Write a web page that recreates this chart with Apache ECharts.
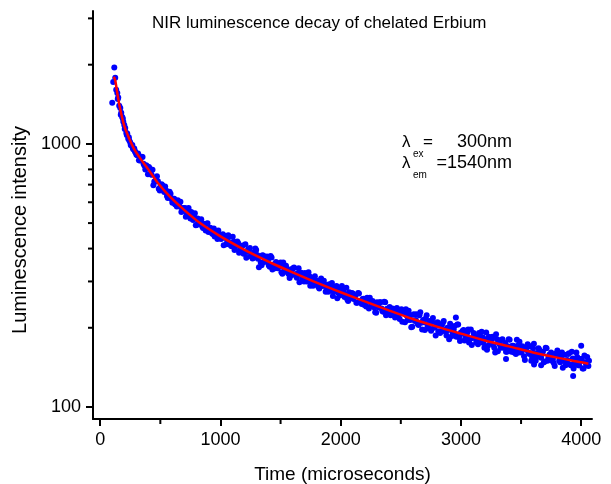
<!DOCTYPE html>
<html>
<head>
<meta charset="utf-8">
<script src="https://cdn.jsdelivr.net/npm/echarts@6/dist/echarts.min.js"></script>
<style>
  html, body { margin: 0; padding: 0; background: #fff; }
  #chart { width: 611px; height: 484px; }
</style>
</head>
<body>
<div id="chart"></div>
<script>
// measured decay, [time (us), counts]
const decayPoints = [
  [100,1433],[117,1950],[125,1786],[133,1607],[142,1560],[150,1500],[158,1397],[167,1370],[175,1313],[183,1265],
  [192,1215],[200,1180],[208,1150],[217,1100],[225,1095],[233,1045],[242,1030],[250,1012],[258,985],[267,990],
  [275,955],[283,960],[292,930],[300,912],
  [315,919],[330,864],[345,894],[360,841],[375,799],[390,822],[405,816],[420,766],[435,798],[442,697],[450,720],
  [465,727],[480,721],[495,665],[510,702],[525,669],[540,688],[555,634],[570,628],[585,647],[600,598],
  [615,619],[630,587],[645,611],[660,578],[675,551],[690,570],[705,571],[720,542],[735,570],[750,520],
  [765,530],[780,531],[795,491],[810,521],[825,498],[840,517],[855,479],[870,478],[885,497],[900,462],
  [915,480],[930,456],[945,477],[960,454],[975,435],[990,452],
  [1005,435],[1020,453],[1035,440],[1050,415],[1065,449],[1080,420],[1095,408],[1110,425],[1125,414],[1140,426],
  [1155,386],[1170,407],[1185,411],[1200,388],[1215,369],[1230,398],[1245,402],[1260,380],[1275,369],[1290,400],
  [1305,378],[1320,340],[1335,354],[1350,377],[1365,356],[1380,371],[1395,361],[1410,341],[1425,370],[1440,347],
  [1455,337],[1470,352],[1485,342],[1500,354],[1515,321],[1530,339],[1545,344],[1560,324],[1575,309],[1590,334],
  [1605,337],[1620,319],[1635,310],[1650,337],[1665,319],[1680,308],[1695,300],[1710,319],[1725,302],[1740,314],
  [1755,306],[1770,289],[1785,314],[1800,294],[1815,286],[1830,299],[1845,292],[1860,302],[1875,274],[1890,289],
  [1905,293],[1920,277],[1935,264],[1950,285],[1965,288],[1980,272],[1995,266],[2010,288],[2025,273],[2040,264],
  [2055,256],[2070,273],[2085,259],[2100,270],[2115,264],[2130,249],[2145,271],[2160,253],[2175,246],[2190,258],
  [2205,251],[2220,260],[2235,237],[2250,249],[2265,253],[2280,239],[2295,228],[2310,247],[2325,250],[2340,237],
  [2355,230],[2370,250],[2385,236],[2400,228],[2415,223],[2430,237],[2445,224],[2460,235],[2475,228],[2490,216],
  [2505,235],
  [2520,229],[2535,210],[2550,222],[2565,232],[2580,214],[2595,202],[2610,225],[2625,214],[2640,207],[2655,223],
  [2670,209],[2685,214],[2700,196],[2715,223],[2730,199],[2745,208],[2760,211],[2775,200],[2790,187],[2805,210],
  [2820,205],[2835,194],[2850,209],[2865,196],[2880,187],[2895,196],[2910,207],[2925,186],[2940,197],[2955,188],
  [2958,219],[2970,206],[2985,184],[3000,192],[3015,195],[3030,179],[3045,189],[3060,197],[3075,181],[3090,172],
  [3105,191],[3120,183],[3135,177],[3150,191],[3165,179],[3180,184],[3195,168],[3210,192],[3225,171],[3240,179],
  [3255,181],[3270,172],[3285,161],[3300,181],[3315,176],[3330,168],[3345,181],[3360,169],[3375,162],[3375,152],
  [3390,170],[3405,180],[3420,162],[3435,171],[3450,165],[3465,180],[3480,161],[3495,167],[3510,170],[3525,156],
  [3540,165],[3555,173],[3570,159],[3585,150],[3600,167],[3608,145],[3615,160],[3630,155],[3645,167],[3660,156],
  [3667,144],[3675,161],[3690,148],[3705,168],[3720,150],[3735,158],[3750,161],[3765,152],[3780,143],[3795,160],
  [3810,157],[3825,148],[3840,161],[3855,150],[3870,144],[3885,151],[3900,160],[3915,144],[3930,153],[3933,131],
  [3945,146],[3960,161],[3975,144],[3990,149],[4000,171],[4005,152],[4020,140],[4035,148],[4050,155],[4060,143],
  [4065,150]
];

// the in-between samples
const decayPointsMid = [
  [108,1720],[146,1480],[171,1290],[188,1250],[204,1140],[221,1080],[238,1060],[254,990],[271,965],[288,940],
  [307,905],[322,866],[337,890],[352,891],[367,827],[382,830],[397,767],[412,807],[427,764],[457,718],[472,753],
  [487,676],[502,692],[517,696],[532,657],[547,666],[562,623],[577,658],[592,618],[607,619],[622,590],
  [637,578],[652,597],[667,602],[682,561],[697,566],[712,528],[727,561],[742,537],[757,551],[772,514],
  [787,545],[802,492],[817,506],[832,512],[847,486],[862,497],[877,469],[892,499],[907,471],[922,474],
  [937,454],[952,445],[967,463],[982,469],[997,439],
  [1012,446],[1027,412],[1042,447],[1057,426],[1072,443],[1087,410],[1102,444],[1117,395],[1132,412],[1147,420],
  [1162,397],[1177,409],[1192,382],[1207,415],[1222,388],[1237,393],[1252,374],[1267,367],[1282,387],[1297,395],
  [1312,366],[1327,374],[1342,346],[1357,376],[1372,358],[1387,373],[1402,345],[1417,375],[1432,333],[1447,349],
  [1462,356],[1477,337],[1492,348],[1507,325],[1522,354],[1537,332],[1552,336],[1567,320],[1582,315],[1597,333],
  [1612,339],[1627,315],[1642,322],[1657,298],[1672,324],[1687,310],[1702,323],[1717,300],[1732,325],[1747,289],
  [1762,302],[1777,309],[1792,292],[1807,302],[1822,282],[1837,308],[1852,288],[1867,292],[1882,278],[1897,274],
  [1912,290],[1927,296],[1942,274],[1957,281],[1972,259],[1987,282],[2002,270],[2017,282],[2032,262],[2047,284],
  [2062,253],[2077,265],[2092,271],[2107,257],[2122,265],[2137,249],[2152,270],[2167,252],[2182,257],[2197,244],
  [2212,241],[2227,255],[2242,260],[2257,242],[2272,247],[2287,229],[2302,250],[2317,239],[2332,250],[2347,231],
  [2362,251],[2377,223],[2392,234],[2407,240],[2422,226],[2437,235],[2452,219],[2467,238],[2482,224],[2497,227],
  [2512,211],[2527,228],[2542,235],[2557,214],[2572,222],[2587,201],[2602,224],[2617,212],[2632,225],[2647,205],
  [2662,229],[2677,197],[2692,210],[2707,217],[2722,203],[2737,212],[2752,195],[2767,218],[2782,201],[2797,206],
  [2812,194],[2827,191],[2842,205],[2857,212],[2872,193],[2887,200],[2902,181],[2917,203],[2932,191],[2947,203],
  [2962,185],[2977,206],[2992,178],[3007,190],[3022,196],[3037,183],[3052,192],[3067,176],[3082,197],[3097,183],
  [3112,186],[3127,176],[3142,173],[3157,187],[3172,193],[3187,175],[3202,181],[3217,165],[3232,185],[3247,175],
  [3262,185],[3277,168],[3292,189],[3307,163],[3322,173],[3337,180],[3352,168],[3367,175],[3382,162],[3397,181],
  [3412,168],[3427,171],[3442,161],[3457,159],[3472,171],[3487,177],[3502,161],[3517,167],[3532,151],[3547,169],
  [3562,161],[3577,170],[3592,155],[3607,174],[3622,150],[3637,160],[3652,165],[3667,154],[3682,162],[3697,149],
  [3712,167],[3727,154],[3742,158],[3757,150],[3772,147],[3787,159],[3802,164],[3817,150],[3832,155],[3847,141],
  [3862,158],[3877,150],[3892,159],[3907,145],[3922,162],[3937,140],[3952,149],[3967,155],[3982,144],[3997,152],
  [4012,140],[4027,157],[4042,145]
];

// fitted decay curve
const fitTime   = [113, 125, 145, 167, 200, 240, 280, 330, 400, 480, 580, 700, 830, 1000, 1150, 1300, 1450, 1600, 1800, 2000, 2200, 2400, 2600, 2800, 3000, 3200, 3400, 3600, 3800, 4000, 4060];
const fitCounts = [1800, 1740, 1530, 1350, 1170, 1050, 960, 885, 800, 710, 630, 560, 500, 445, 407, 375, 348, 325, 297, 273, 252, 233, 216, 202, 190, 179, 170, 161, 154, 148, 146];

const xMajorTicks = [0, 1000, 2000, 3000, 4000];
const xMinorTicks = [500, 1500, 2500, 3500];
const yMajorTicks = [100, 1000];
const yMinorTicks = [200, 300, 400, 500, 600, 700, 800, 900, 2000, 3000];

const FONT = '"Liberation Sans", Arial, sans-serif';
const X_MIN = -60, X_MAX = 4090;
const Y_MIN = 90, Y_MAX = 3200;
const MINOR_LEN = 5;

const chart = echarts.init(document.getElementById('chart'), null, { renderer: 'canvas' });

const axisLineStyle = { color: '#000', width: 2 };

// small outward tick drawn at a data position on the axis
function minorTick(dir) {
  return function (params, api) {
    const p = api.coord([api.value(0), api.value(1)]);
    const shape = dir === 'x'
      ? { x1: p[0], y1: p[1], x2: p[0], y2: p[1] + MINOR_LEN }
      : { x1: p[0] - MINOR_LEN, y1: p[1], x2: p[0], y2: p[1] };
    return { type: 'line', shape: shape, style: { stroke: '#000', lineWidth: 2 } };
  };
}

chart.setOption({
  animation: false,
  backgroundColor: '#fff',
  title: {
    text: 'NIR luminescence decay of chelated Erbium',
    left: 152, top: 15, padding: 0,
    textStyle: { fontFamily: FONT, fontSize: 17, fontWeight: 'normal', color: '#000' }
  },
  grid: { left: 93, right: 19, top: 11, bottom: 65, containLabel: false, outerBoundsMode: 'none' },
  xAxis: {
    type: 'value', min: X_MIN, max: X_MAX,
    name: 'Time (microseconds)', nameLocation: 'middle', nameGap: 46,
    nameTextStyle: { fontFamily: FONT, fontSize: 19, color: '#000' },
    axisLine: { show: true, onZero: false, lineStyle: axisLineStyle },
    axisTick: { show: true, length: 7, lineStyle: axisLineStyle, customValues: xMajorTicks },
    axisLabel: { customValues: xMajorTicks, margin: 12, fontFamily: FONT, fontSize: 18, color: '#000',
      formatter: v => String(Math.round(v)) },
    splitLine: { show: false }
  },
  yAxis: {
    type: 'log', logBase: 10, min: Y_MIN, max: Y_MAX,
    name: 'Luminescence intensity', nameLocation: 'middle', nameGap: 59,
    nameTextStyle: { fontFamily: FONT, fontSize: 20, color: '#000', padding: [0, 30, 0, 0] },
    axisLine: { show: true, onZero: false, lineStyle: axisLineStyle },
    axisTick: { show: true, length: 7, lineStyle: axisLineStyle, customValues: yMajorTicks },
    axisLabel: { customValues: yMajorTicks, margin: 12, fontFamily: FONT, fontSize: 18, color: '#000',
      formatter: v => String(Math.round(v)) },
    splitLine: { show: false }
  },
  series: [
    {
      name: 'data', type: 'scatter',
      data: decayPoints.concat(decayPointsMid),
      symbol: 'circle', symbolSize: 6,
      itemStyle: { color: '#0000ff', opacity: 1 },
      z: 2
    },
    {
      name: 'fit', type: 'line',
      data: fitTime.map((t, i) => [t, fitCounts[i]]),
      smooth: 0.3, showSymbol: false,
      lineStyle: { color: '#ff0000', width: 2.5 },
      z: 3
    },
    {
      name: 'xMinor', type: 'custom', silent: true, clip: false,
      data: xMinorTicks.map(t => [t, Y_MIN]),
      renderItem: minorTick('x'), z: 5
    },
    {
      name: 'yMinor', type: 'custom', silent: true, clip: false,
      data: yMinorTicks.map(v => [X_MIN, v]),
      renderItem: minorTick('y'), z: 5
    }
  ],
  graphic: [
    { type: 'text', x: 402, y: 134, style: { text: 'λ', font: '17px ' + FONT, fill: '#000' } },
    { type: 'text', x: 413, y: 149, style: { text: 'ex', font: '10px ' + FONT, fill: '#000' } },
    { type: 'text', x: 423, y: 134, style: { text: '=', font: '17px ' + FONT, fill: '#000' } },
    { type: 'text', x: 512, y: 133, style: { text: '300nm', font: '18px ' + FONT, fill: '#000', align: 'right' } },
    { type: 'text', x: 402, y: 155, style: { text: 'λ', font: '17px ' + FONT, fill: '#000' } },
    { type: 'text', x: 413, y: 170, style: { text: 'em', font: '10px ' + FONT, fill: '#000' } },
    { type: 'text', x: 512, y: 154, style: { text: '=1540nm', font: '18px ' + FONT, fill: '#000', align: 'right' } }
  ]
});
</script>
</body>
</html>
